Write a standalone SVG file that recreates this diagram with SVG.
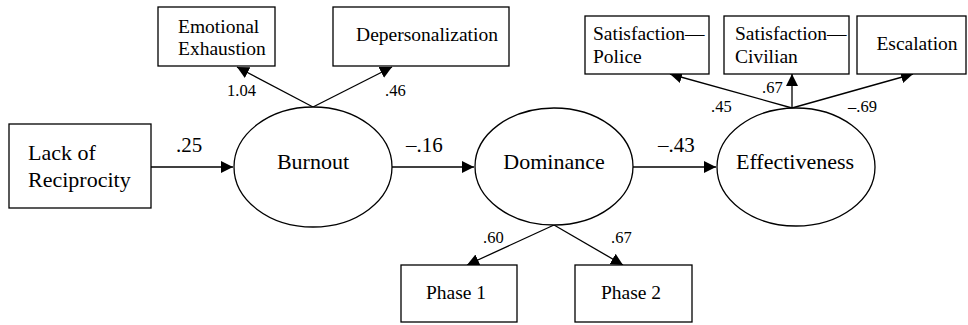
<svg xmlns="http://www.w3.org/2000/svg" width="968" height="325" viewBox="0 0 968 325">
<style>
.box{fill:#fff;stroke:#000;stroke-width:1.3}
.ell{fill:#fff;stroke:#000;stroke-width:1.3}
.ln{fill:none;stroke:#000;stroke-width:1.3}
text{font-family:"Liberation Serif",serif;fill:#000}
.t{font-size:19.5px}
.big{font-size:22px}
.coef{font-size:21px}
.ld{font-size:16.5px}
</style>
<defs>
<marker id="ah" markerUnits="userSpaceOnUse" markerWidth="12" markerHeight="12" viewBox="0 0 12 12" refX="12" refY="6" orient="auto">
<path d="M0,0 L12,6 L0,12 Z" fill="#000"/>
</marker>
</defs>
<rect width="968" height="325" fill="#fff"/>
<g id="connectors">
<line class="ln" x1="151" y1="167" x2="233" y2="167" marker-end="url(#ah)"/>
<line class="ln" x1="392" y1="167" x2="474" y2="167" marker-end="url(#ah)"/>
<line class="ln" x1="633" y1="167" x2="716" y2="167" marker-end="url(#ah)"/>
<line class="ln" x1="313" y1="107" x2="237" y2="67" marker-end="url(#ah)"/>
<line class="ln" x1="313" y1="107" x2="392" y2="67" marker-end="url(#ah)"/>
<line class="ln" x1="792" y1="108" x2="670" y2="74" marker-end="url(#ah)"/>
<line class="ln" x1="792" y1="108" x2="792" y2="74" marker-end="url(#ah)"/>
<line class="ln" x1="792" y1="108" x2="913" y2="74" marker-end="url(#ah)"/>
<line class="ln" x1="554" y1="225" x2="467" y2="265" marker-end="url(#ah)"/>
<line class="ln" x1="554" y1="225" x2="623" y2="265" marker-end="url(#ah)"/>
<text class="coef" x="176" y="152">.25</text>
<text class="coef" x="406" y="152">–.16</text>
<text class="coef" x="658" y="152">–.43</text>
<text class="ld" x="227" y="96">1.04</text>
<text class="ld" x="385" y="96">.46</text>
<text class="ld" x="711" y="112">.45</text>
<text class="ld" x="762" y="93">.67</text>
<text class="ld" x="848" y="112">–.69</text>
<text class="ld" x="483" y="243">.60</text>
<text class="ld" x="611" y="243">.67</text>
</g>
<g id="lack">
<rect class="box" x="9" y="124" width="142" height="84"/>
<text class="big" x="28" y="160">Lack of</text>
<text class="big" x="28" y="187">Reciprocity</text>
</g>
<g id="burnout">
<ellipse class="ell" cx="313" cy="167" rx="79" ry="60"/>
<text class="big" x="313" y="169" text-anchor="middle">Burnout</text>
</g>
<g id="dominance">
<ellipse class="ell" cx="554" cy="166.5" rx="79" ry="58.5"/>
<text class="big" x="554" y="169" text-anchor="middle">Dominance</text>
</g>
<g id="effectiveness">
<ellipse class="ell" cx="796" cy="167" rx="79" ry="59"/>
<text class="big" x="795" y="169" text-anchor="middle">Effectiveness</text>
</g>
<g id="emotional">
<rect class="box" x="158" y="7" width="117" height="59"/>
<text class="t" x="178" y="33">Emotional</text>
<text class="t" x="178" y="55">Exhaustion</text>
</g>
<g id="depersonalization">
<rect class="box" x="333" y="7" width="176" height="59"/>
<text class="t" x="427" y="41" text-anchor="middle">Depersonalization</text>
</g>
<g id="satpolice">
<rect class="box" x="585" y="16" width="124" height="58"/>
<text class="t" x="593" y="40">Satisfaction—</text>
<text class="t" x="593" y="63">Police</text>
</g>
<g id="satcivilian">
<rect class="box" x="724" y="16" width="125" height="58"/>
<text class="t" x="735" y="40">Satisfaction—</text>
<text class="t" x="735" y="63">Civilian</text>
</g>
<g id="escalation">
<rect class="box" x="857" y="16" width="109" height="58"/>
<text class="t" x="917" y="50" text-anchor="middle">Escalation</text>
</g>
<g id="phase1">
<rect class="box" x="401" y="265" width="116" height="57"/>
<text class="t" x="456" y="299" text-anchor="middle">Phase 1</text>
</g>
<g id="phase2">
<rect class="box" x="575" y="265" width="117" height="57"/>
<text class="t" x="631" y="299" text-anchor="middle">Phase 2</text>
</g>
</svg>
